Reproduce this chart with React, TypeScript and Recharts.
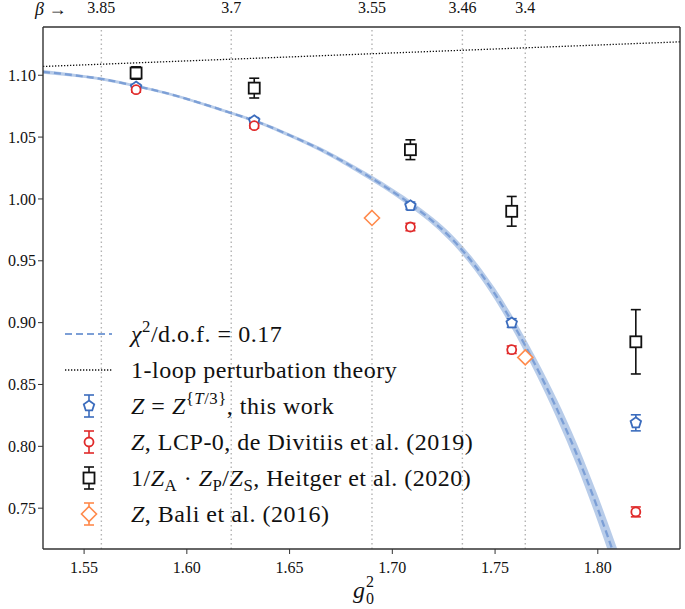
import React from 'react';
import {
  ComposedChart,
  XAxis,
  YAxis,
  Line,
  Area,
  Scatter,
  ErrorBar,
  ReferenceLine,
} from 'recharts';

const SERIF = '"Liberation Serif", "Times New Roman", serif';

// fit curve (chi^2/d.o.f. = 0.17) sampled along g0^2, with its error band
const fitG = [1.53, 1.545, 1.56, 1.575, 1.59, 1.605, 1.62, 1.635, 1.65, 1.665, 1.68, 1.695, 1.71, 1.72, 1.73, 1.74, 1.75, 1.76, 1.77, 1.78, 1.79, 1.8, 1.81];
const fitZ = [1.1028, 1.1, 1.0966, 1.0914, 1.0856, 1.0783, 1.0703, 1.0619, 1.0515, 1.04, 1.0265, 1.0115, 0.9945, 0.9815, 0.966, 0.9465, 0.923, 0.8955, 0.8645, 0.8305, 0.7925, 0.7495, 0.7025];
const fitErr = [0.0015, 0.0013, 0.0012, 0.0011, 0.0011, 0.0011, 0.0012, 0.0013, 0.0015, 0.0017, 0.002, 0.0023, 0.0027, 0.003, 0.0035, 0.004, 0.0047, 0.0055, 0.0065, 0.0077, 0.009, 0.0105, 0.012];

// 1-loop perturbation theory
const pertG = [1.53, 1.84];
const pertZ = [1.1071, 1.127];

// beta values on the top axis
const betaLabels = ['3.85', '3.7', '3.55', '3.46', '3.4'];
const betaG = [1.5584, 1.6216, 1.6901, 1.7341, 1.7647];

const pointG = [1.5753, 1.6328, 1.7088, 1.7581, 1.8185];
const thisZ = [1.0905, 1.0632, 0.9945, 0.8997, 0.819];
const thisErr = [0.002, 0.0025, 0.003, 0.0035, 0.0065];
const lcpZ = [1.0883, 1.0592, 0.9773, 0.8781, 0.747];
const lcpErr = [0.002, 0.002, 0.003, 0.003, 0.004];
const heitgerZ = [1.1018, 1.0896, 1.0398, 0.99, 0.8845];
const heitgerErr = [0.005, 0.008, 0.008, 0.012, 0.026];
const baliG = [1.6901, 1.7647];
const baliZ = [0.9846, 0.8719];

const xTicks = [1.55, 1.6, 1.65, 1.7, 1.75, 1.8];
const yTicks = [0.75, 0.8, 0.85, 0.9, 0.95, 1.0, 1.05, 1.1];

const BLUE = '#3b6cbd';
const RED = '#e02a2a';
const ORANGE = '#ff8a4c';
const FIT = '#7c9fd6';
const BAND = '#b4c9e8';

const fitRows = fitG.map((g, i) => ({
  g,
  fit: fitZ[i],
  band: [fitZ[i] - fitErr[i], fitZ[i] + fitErr[i]],
}));
const pertRows = pertG.map((g, i) => ({ g, v: pertZ[i] }));
const thisRows = pointG.map((g, i) => ({ g, v: thisZ[i], e: thisErr[i] }));
const lcpRows = pointG.map((g, i) => ({ g, v: lcpZ[i], e: lcpErr[i] }));
const heitgerRows = pointG.map((g, i) => ({ g, v: heitgerZ[i], e: heitgerErr[i] }));
const baliRows = baliG.map((g, i) => ({ g, v: baliZ[i] }));

const pentagon = (cx: number, cy: number, r: number) =>
  [0, 1, 2, 3, 4]
    .map((k) => {
      const a = -Math.PI / 2 + (k * 2 * Math.PI) / 5;
      return `${cx + r * Math.cos(a)},${cy + r * Math.sin(a)}`;
    })
    .join(' ');

const Pent = (p: any) => (
  <polygon points={pentagon(p.cx, p.cy, 5.5)} fill="#fff" stroke={BLUE} strokeWidth={1.8} />
);
const Circ = (p: any) => <circle cx={p.cx} cy={p.cy} r={4.5} fill="#fff" stroke={RED} strokeWidth={1.8} />;
const Sq = (p: any) => (
  <rect x={p.cx - 5.5} y={p.cy - 5.5} width={11} height={11} fill="#fff" stroke="#111" strokeWidth={1.8} />
);
const Diam = (p: any) => (
  <polygon
    points={`${p.cx},${p.cy - 7.5} ${p.cx + 7.5},${p.cy} ${p.cx},${p.cy + 7.5} ${p.cx - 7.5},${p.cy}`}
    fill="#fff"
    stroke={ORANGE}
    strokeWidth={1.6}
  />
);

function Handle({ kind }: { kind: string }) {
  const w = 50;
  const h = 26;
  if (kind === 'fit')
    return (
      <svg width={w} height={h}>
        <line x1={0} x2={47} y1={13} y2={13} stroke={FIT} strokeWidth={2.2} strokeDasharray="7 4" />
      </svg>
    );
  if (kind === 'pert')
    return (
      <svg width={w} height={h}>
        <line x1={0} x2={47} y1={13} y2={13} stroke="#111" strokeWidth={1.3} strokeDasharray="1.3 1.7" />
      </svg>
    );
  const color = kind === 'this' ? BLUE : kind === 'lcp' ? RED : kind === 'heit' ? '#111' : ORANGE;
  const cx = 24;
  const cy = 13;
  return (
    <svg width={w} height={h}>
      <line x1={cx} x2={cx} y1={2} y2={24} stroke={color} strokeWidth={1.6} />
      <line x1={cx - 5} x2={cx + 5} y1={2} y2={2} stroke={color} strokeWidth={1.6} />
      <line x1={cx - 5} x2={cx + 5} y1={24} y2={24} stroke={color} strokeWidth={1.6} />
      {kind === 'this' && <Pent cx={cx} cy={cy} />}
      {kind === 'lcp' && <Circ cx={cx} cy={cy} />}
      {kind === 'heit' && <Sq cx={cx} cy={cy} />}
      {kind === 'bali' && <Diam cx={cx} cy={cy} />}
    </svg>
  );
}

const sup = { fontSize: '0.7em', position: 'relative' as const, top: '-0.55em' };
const sub = { fontSize: '0.7em', position: 'relative' as const, top: '0.3em' };

const legendItems = [
  {
    kind: 'fit',
    text: (
      <>
        <i>χ</i>
        <span style={sup}>2</span>/d.o.f. = 0.17
      </>
    ),
  },
  { kind: 'pert', text: <>1-loop perturbation theory</> },
  {
    kind: 'this',
    text: (
      <>
        <i>Z</i> = <i>Z</i>
        <span style={sup}>
          {'{'}
          <i>T</i>/3{'}'}
        </span>
        , this work
      </>
    ),
  },
  { kind: 'lcp', text: <><i>Z</i>, LCP-0, de Divitiis et al. (2019)</> },
  {
    kind: 'heit',
    text: (
      <>
        1/<i>Z</i>
        <span style={sub}>A</span> · <i>Z</i>
        <span style={sub}>P</span>/<i>Z</i>
        <span style={sub}>S</span>, Heitger et al. (2020)
      </>
    ),
  },
  { kind: 'bali', text: <><i>Z</i>, Bali et al. (2016)</> },
];

export default function App() {
  const tick = { fill: '#111', fontSize: 16, fontFamily: SERIF };
  const abs = (left: number, top: number, size: number, extra: any = {}) => ({
    position: 'absolute' as const,
    left,
    top,
    fontFamily: SERIF,
    fontSize: size,
    lineHeight: `${size}px`,
    color: '#111',
    whiteSpace: 'nowrap' as const,
    ...extra,
  });
  return (
    <div style={{ position: 'absolute', left: 0, top: 0, width: 685, height: 609, background: '#fff' }}>
      <ComposedChart width={685} height={609} margin={{ top: 0, right: 5, bottom: 0, left: 0 }}>
        <XAxis
          xAxisId={0}
          type="number"
          dataKey="g"
          domain={[1.53, 1.84]}
          ticks={xTicks}
          tickFormatter={(v: number) => v.toFixed(2)}
          allowDataOverflow
          height={60}
          tick={tick}
          tickSize={5}
          tickMargin={8}
          stroke="#333"
          axisLine={{ stroke: '#333', strokeWidth: 1.4 }}
        />
        <XAxis
          xAxisId="top"
          orientation="top"
          type="number"
          domain={[1.53, 1.84]}
          allowDataOverflow
          height={27}
          tick={false}
          tickLine={false}
          axisLine={{ stroke: '#333', strokeWidth: 1.4 }}
        />
        <YAxis
          type="number"
          domain={[0.717, 1.139]}
          ticks={yTicks}
          tickFormatter={(v: number) => v.toFixed(2)}
          allowDataOverflow
          width={43}
          tick={tick}
          tickSize={5}
          tickMargin={2}
          stroke="#333"
          axisLine={{ stroke: '#333', strokeWidth: 1.4 }}
        />
        <ReferenceLine x={1.84} stroke="#333" strokeWidth={1.4} />
        {betaG.map((g, i) => (
          <ReferenceLine
            key={g}
            x={g}
            stroke="#b3b3b3"
            strokeWidth={1.4}
            strokeDasharray="1.5 3"
            label={{
              value: betaLabels[i],
              position: 'top',
              offset: 14,
              fill: '#111',
              fontSize: 16,
              fontFamily: SERIF,
            }}
          />
        ))}
        <Area
          data={fitRows}
          dataKey="band"
          type="monotone"
          stroke="none"
          fill={BAND}
          fillOpacity={0.95}
          isAnimationActive={false}
        />
        <Line
          data={fitRows}
          dataKey="fit"
          type="monotone"
          stroke={FIT}
          strokeWidth={2.3}
          strokeDasharray="7 4"
          dot={false}
          isAnimationActive={false}
        />
        <Line
          data={pertRows}
          dataKey="v"
          type="linear"
          stroke="#111"
          strokeWidth={1.3}
          strokeDasharray="1.3 1.7"
          dot={false}
          isAnimationActive={false}
        />
        <Scatter data={thisRows} dataKey="v" shape={Pent} isAnimationActive={false}>
          <ErrorBar dataKey="e" direction="y" width={5} stroke={BLUE} strokeWidth={1.6} />
        </Scatter>
        <Scatter data={lcpRows} dataKey="v" shape={Circ} isAnimationActive={false}>
          <ErrorBar dataKey="e" direction="y" width={5} stroke={RED} strokeWidth={1.6} />
        </Scatter>
        <Scatter data={heitgerRows} dataKey="v" shape={Sq} isAnimationActive={false}>
          <ErrorBar dataKey="e" direction="y" width={5} stroke="#111" strokeWidth={1.6} />
        </Scatter>
        <Scatter data={baliRows} dataKey="v" shape={Diam} isAnimationActive={false} />
      </ComposedChart>

      <div style={abs(35, 0, 18)}>
        <i>β</i> →
      </div>

      <div style={abs(353, 578, 24)}>
        <i>g</i>
      </div>
      <div style={abs(366, 574, 16)}>2</div>
      <div style={abs(366, 591, 16)}>0</div>

      <div style={{ position: 'absolute', left: 65, top: 316, fontFamily: SERIF, color: '#111' }}>
        {legendItems.map((it) => (
          <div key={it.kind} style={{ display: 'flex', alignItems: 'center', height: 36 }}>
            <Handle kind={it.kind} />
            <span style={{ marginLeft: 16, fontSize: 24, letterSpacing: 0.5, whiteSpace: 'nowrap' }}>{it.text}</span>
          </div>
        ))}
      </div>
    </div>
  );
}
